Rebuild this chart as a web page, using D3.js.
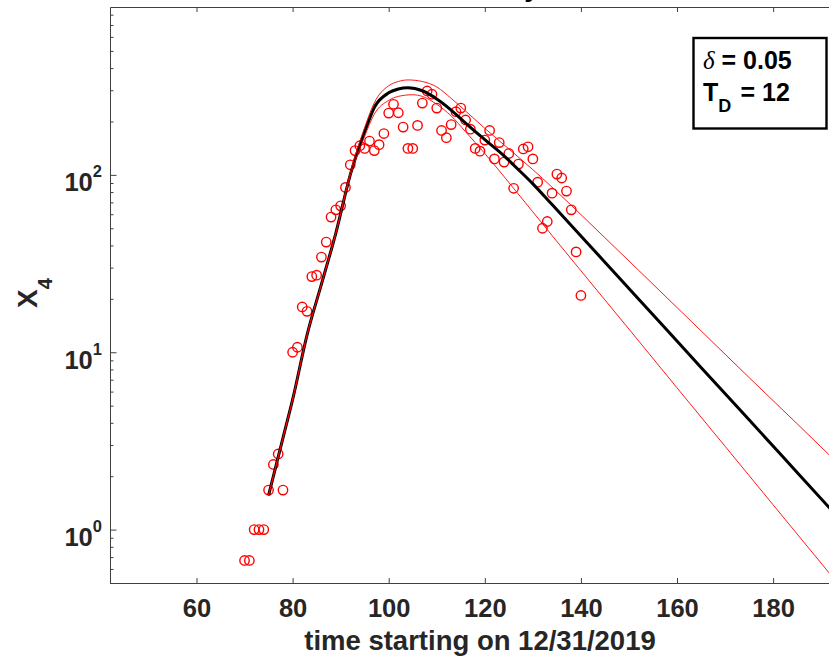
<!DOCTYPE html>
<meta charset="utf-8">
<script src="https://d3js.org/d3.v7.min.js"></script>
<style>
body { margin: 0; background: #fff; }
svg text { font-family: "Liberation Sans", Arial, Helvetica, sans-serif; font-weight: bold; }
</style>
<body>
<script>

var days  = [70, 71, 72, 73, 74, 75, 76, 77, 78, 80, 81, 82, 83, 84, 85, 86, 87, 88, 89, 90,
             91, 92, 93, 94, 95, 96, 97, 98, 99, 100, 101, 102, 103, 104, 105, 106, 107, 108, 109, 110,
             111, 112, 113, 114, 115, 116, 117, 118, 119, 120, 121, 122, 123, 124, 125, 126, 127, 128, 129, 130,
             131, 132, 133, 134, 135, 136, 137, 138, 139, 140];
var cases = [0.67, 0.67, 1, 1, 1, 1.67, 2.33, 2.67, 1.67, 10, 10.67, 18, 17, 26.7, 27.2, 34.4, 41.8, 57.8, 63.5, 66.9,
             85, 114, 137, 146, 141, 155, 137, 148, 171, 223, 250, 224, 186, 141, 141, 190, 254, 297, 285, 238,
             178, 162, 192, 227, 238, 204, 181, 141, 136, 157, 178, 123, 152, 118, 132, 84, 115, 140, 144, 123,
             91, 50, 54.6, 78.9, 101, 96, 81, 63.5, 36.8, 20.9];

// Model fit (thick black) and the two bounds (thin red)
var fitDays = [75, 78, 80, 83, 86, 89, 92, 95, 97, 100, 102, 104, 107, 110, 113, 116, 120, 124, 127, 130, 134, 141, 148, 157, 165, 175, 185, 196];
var fitVals = [1.56, 3.29, 5.4, 12.5, 24.2, 47, 100, 175, 240, 290, 305, 310, 298, 268, 232, 196, 158, 128, 107, 89, 68, 42.3, 26.2, 14.2, 8.2, 4.16, 2.1, 0.99];

var upDays = [75, 78, 80, 83, 86, 89, 92, 95, 97, 100, 102, 104, 107, 110, 113, 116, 120, 125, 130, 138, 145, 152, 165, 175, 185, 196];
var upVals = [1.56, 3.29, 5.4, 12.5, 24.2, 47, 103, 185, 255, 318, 336, 343, 336, 313, 270, 229, 183, 140, 107, 67.3, 44.2, 29, 13.2, 7.2, 3.95, 2.03];

var loDays = [75, 78, 80, 83, 86, 89, 92, 95, 97, 100, 102, 105, 107, 110, 113, 116, 120, 126, 134, 140, 150, 160, 170, 180, 196];
var loVals = [1.56, 3.29, 5.4, 12.5, 24.2, 47, 98, 165, 220, 263, 277, 283, 277, 250, 215, 175, 132, 84, 45.5, 28.8, 13.5, 6.3, 2.95, 1.38, 0.41];

var xTicks = [60, 80, 100, 120, 140, 160, 180];
var yMajor = [1, 10, 100];
var yExp   = ["0", "1", "2"];

var titleText = "Germany";
var xLabel = "time starting on 12/31/2019";

// Set the dimensions of the canvas.
var margin = {top: 7, left: 110},
    width = 740,
    height = 576;

var svg = d3.select("body").append("svg")
    .attr("width", 829)
    .attr("height", 656);

var g = svg.append("g")
    .attr("transform", "translate(" + margin.left + "," + margin.top + ")");

var x = d3.scaleLinear().domain([42, 196]).range([0, width]);
var y = d3.scaleLog().domain([0.5, 884]).range([height, 0]);

svg.append("defs").append("clipPath").attr("id", "plot")
  .append("rect").attr("width", width).attr("height", height);

var plot = g.append("g").attr("clip-path", "url(#plot)");

// Data circles
plot.selectAll(".pt")
    .data(days)
  .enter().append("circle")
    .attr("class", "pt")
    .attr("cx", function(d) { return x(d); })
    .attr("cy", function(d, i) { return y(cases[i]); })
    .attr("r", 4.7)
    .attr("fill", "none")
    .attr("stroke", "#ff0000")
    .attr("stroke-width", 1.4);

var line = d3.line()
    .x(function(d) { return x(d[0]); })
    .y(function(d) { return y(d[1]); })
    .curve(d3.curveMonotoneX);

// Fit line
plot.append("path")
  .datum(d3.zip(fitDays, fitVals))
  .attr("d", line)
  .attr("fill", "none")
  .attr("stroke", "#000")
  .attr("stroke-width", 3);

// Bounds
[[upDays, upVals], [loDays, loVals]].forEach(function(s) {
  plot.append("path")
    .datum(d3.zip(s[0], s[1]))
    .attr("d", line)
    .attr("fill", "none")
    .attr("stroke", "#ff0000")
    .attr("stroke-width", 0.9);
});

// Axes (ticks point inwards, MATLAB style)
var axisColor = "#404040";

var xAxis = g.append("g")
  .attr("transform", "translate(0," + height + ")")
  .call(d3.axisBottom(x).tickValues(xTicks).tickSize(-5).tickSizeOuter(0).tickPadding(16));

g.append("g")
  .call(d3.axisTop(x).tickValues(xTicks).tickSize(-5).tickSizeOuter(0).tickFormat(""));

var minor = [];
[0.1, 1, 10, 100].forEach(function(dec) {
  for (var k = 2; k <= 9; k++) minor.push(dec * k);
});
minor = minor.filter(function(v) { return v >= 0.5 && v <= 884; });

var yAxis = g.append("g")
  .call(d3.axisLeft(y).tickValues(yMajor.concat(minor)).tickSize(-6.5).tickSizeOuter(0).tickFormat(""));

yAxis.selectAll(".tick line")
  .attr("x2", function(d) { return yMajor.indexOf(d) >= 0 ? 6.5 : 3.5; });

// y tick labels as 10^n
yAxis.selectAll(".tick")
  .filter(function(d) { return yMajor.indexOf(d) >= 0; })
  .append("text")
    .attr("x", -8)
    .attr("y", 16)
    .attr("dy", 0)
    .attr("text-anchor", "end")
    .style("font-size", "25.5px")
    .attr("fill", "#262626")
    .each(function(d) {
      var t = d3.select(this);
      t.append("tspan").text("10");
      t.append("tspan").attr("dy", -14).style("font-size", "16.5px").text(yExp[yMajor.indexOf(d)]);
    });

g.selectAll(".tick line").attr("stroke", axisColor);
g.selectAll(".domain").attr("stroke", axisColor);

xAxis.selectAll(".tick text")
  .style("font-size", "25.5px")
  .attr("fill", "#262626");

// Axis titles
g.append("text")
  .attr("x", width / 2)
  .attr("y", 643)
  .attr("text-anchor", "middle")
  .style("font-size", "27.5px")
  .attr("fill", "#262626")
  .text(xLabel);

var yl = svg.append("text")
  .attr("transform", "translate(36.7,308) rotate(-90)")
  .style("font-size", "28px")
  .attr("fill", "#262626");
yl.append("tspan").text("X");
yl.append("tspan").attr("dy", 15).style("font-size", "20px").text("4");

// Title (mostly above the window)
g.append("text")
  .attr("x", width / 2)
  .attr("y", -11)
  .attr("text-anchor", "middle")
  .style("font-size", "27.5px")
  .attr("fill", "#000")
  .text(titleText);

// Parameter box
svg.append("rect")
  .attr("x", 693.5)
  .attr("y", 38)
  .attr("width", 133)
  .attr("height", 90.5)
  .attr("fill", "#fff")
  .attr("stroke", "#000")
  .attr("stroke-width", 2.4);

var l1 = svg.append("text").attr("x", 703).attr("y", 68.5).style("font-size", "25px").attr("fill", "#000");
l1.append("tspan")
  .style("font-family", "'Liberation Serif', 'DejaVu Serif', serif")
  .style("font-style", "italic")
  .style("font-weight", "normal")
  .text("\u03b4");
l1.append("tspan").attr("x", 721.5).text("= 0.05");

var l2 = svg.append("text").attr("x", 703).attr("y", 101).style("font-size", "25px").attr("fill", "#000");
l2.append("tspan").text("T");
l2.append("tspan").attr("dy", 11).style("font-size", "18px").text("D");
l2.append("tspan").attr("x", 740.5).attr("dy", -11).text("= 12");

</script>
</body>
</html>
